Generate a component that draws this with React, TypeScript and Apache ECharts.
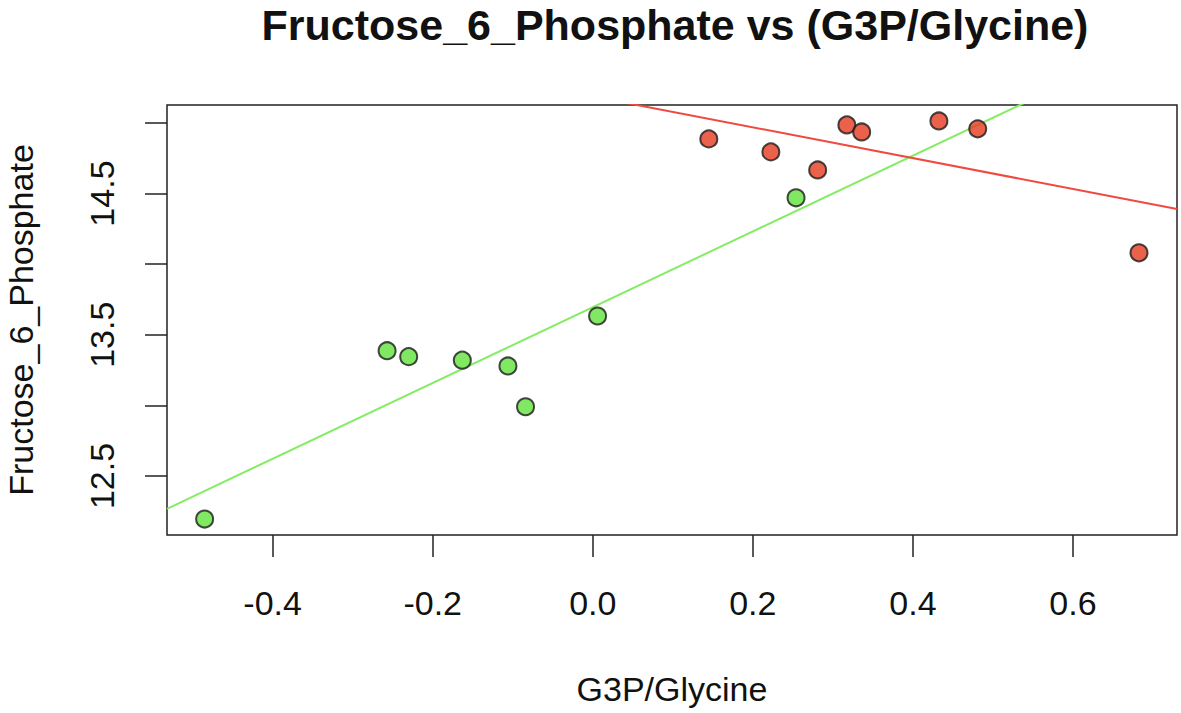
import React, { useEffect, useRef } from "react";
import * as echarts from "echarts";

const titleText = "Fructose_6_Phosphate vs (G3P/Glycine)";
const xName = "G3P/Glycine";
const yName = "Fructose_6_Phosphate";

const redX = [0.145, 0.2225, 0.281, 0.3175, 0.336, 0.4325, 0.481, 0.6825];
const redY = [14.887, 14.795, 14.667, 14.986, 14.936, 15.014, 14.958, 14.08];
const greenX = [-0.485, -0.257, -0.23, -0.163, -0.106, -0.084, 0.006, 0.254];
const greenY = [12.195, 13.387, 13.345, 13.32, 13.279, 12.99, 13.633, 14.47];

const greenFit = { intercept: 13.695, slope: 2.684 };
const redFit = { intercept: 15.187, slope: -1.091 };

const xTicks = [-0.4, -0.2, 0.0, 0.2, 0.4, 0.6];
const yTicks = [12.5, 13.0, 13.5, 14.0, 14.5, 15.0];
const yLabels = [12.5, 13.5, 14.5];

const X_MIN = -0.532;
const X_MAX = 0.73;
const Y_MIN = 12.082;
const Y_MAX = 15.127;

const FONT = "Liberation Sans, Arial, Helvetica, sans-serif";

export default function App() {
  const ref = useRef<HTMLDivElement>(null);
  useEffect(() => {
    if (!ref.current) return;
    const chart = echarts.init(ref.current, null, { renderer: "svg" });
    const fitLine = (f: { intercept: number; slope: number }) => [
      [X_MIN, f.intercept + f.slope * X_MIN],
      [X_MAX, f.intercept + f.slope * X_MAX],
    ];
    chart.setOption({
      animation: false,
      backgroundColor: "#ffffff",
      title: {
        text: titleText,
        left: 670,
        textAlign: "center",
        top: -2,
        textStyle: { fontFamily: FONT, fontSize: 43, fontWeight: "bold", color: "#111" },
      },
      grid: {
        left: 167,
        top: 105,
        width: 1010,
        height: 430,
        show: true,
        containLabel: false,
        outerBoundsMode: "none",
        borderColor: "#222",
        borderWidth: 1.5,
        backgroundColor: "transparent",
      },
      xAxis: {
        type: "value",
        min: X_MIN,
        max: X_MAX,
        name: xName,
        nameLocation: "middle",
        nameGap: 137,
        nameTextStyle: { fontFamily: FONT, fontSize: 34, color: "#111" },
        axisLine: { show: false, onZero: false },
        splitLine: { show: false },
        axisTick: {
          show: true,
          length: 22,
          customValues: xTicks,
          lineStyle: { color: "#222", width: 1.5 },
        },
        axisLabel: {
          customValues: xTicks,
          margin: 51,
          fontFamily: FONT,
          fontSize: 34,
          color: "#111",
          formatter: (v: number) => v.toFixed(1),
        },
      },
      yAxis: {
        type: "value",
        min: Y_MIN,
        max: Y_MAX,
        name: yName,
        nameLocation: "middle",
        nameGap: 129,
        nameRotate: 90,
        nameTextStyle: { fontFamily: FONT, fontSize: 34, color: "#111" },
        axisLine: { show: false, onZero: false },
        splitLine: { show: false },
        axisTick: {
          show: true,
          length: 22,
          customValues: yTicks,
          lineStyle: { color: "#222", width: 1.5 },
        },
        axisLabel: {
          customValues: yLabels,
          rotate: 90,
          margin: 48,
          fontFamily: FONT,
          fontSize: 34,
          color: "#111",
          formatter: (v: number) => v.toFixed(1),
        },
      },
      series: [
        {
          type: "line",
          data: fitLine(greenFit),
          symbol: "none",
          clip: true,
          lineStyle: { color: "#86ec66", width: 2 },
          z: 1,
        },
        {
          type: "line",
          data: fitLine(redFit),
          symbol: "none",
          clip: true,
          lineStyle: { color: "#ef4a40", width: 2 },
          z: 1,
        },
        {
          type: "scatter",
          data: greenX.map((x, i) => [x, greenY[i]]),
          symbol: "circle",
          symbolSize: 17,
          itemStyle: { color: "#62e23c", borderColor: "#1a1a1a", borderWidth: 2 },
          z: 3,
        },
        {
          type: "scatter",
          data: redX.map((x, i) => [x, redY[i]]),
          symbol: "circle",
          symbolSize: 17,
          itemStyle: { color: "#e5391f", borderColor: "#1a1a1a", borderWidth: 2 },
          z: 3,
        },
      ],
    });
    return () => chart.dispose();
  }, []);
  return (
    <div
      ref={ref}
      style={{ position: "fixed", left: 0, top: 0, width: 1181, height: 713, background: "#fff" }}
    />
  );
}
